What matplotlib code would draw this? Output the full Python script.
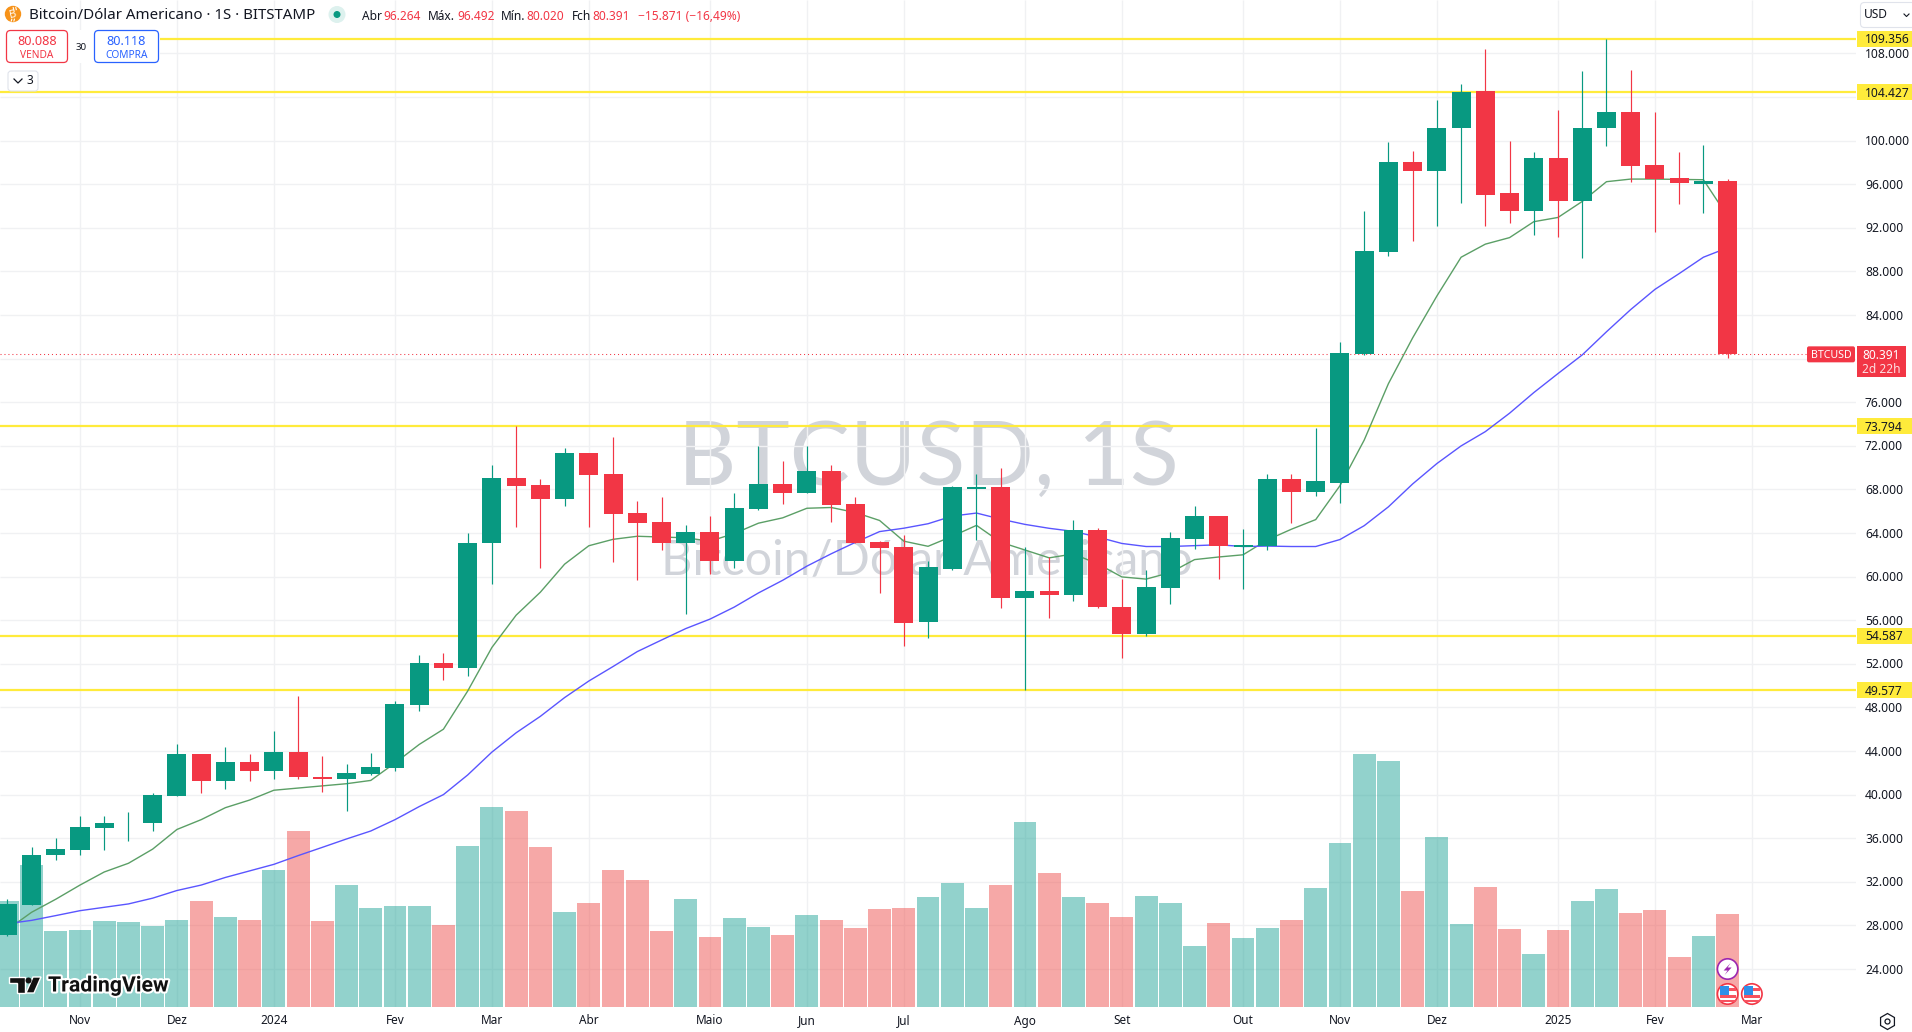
import matplotlib
matplotlib.use("Agg")
import matplotlib.pyplot as plt
from matplotlib.patches import Rectangle, FancyBboxPatch, Circle, Polygon, RegularPolygon
import matplotlib.patheffects as pe

opens = [27.1,29.9,34.5,34.95,36.97,37.35,37.36,39.9,43.76,41.28,43.02,42.2,43.94,41.65,41.46,41.92,42.47,48.25,52.1,51.65,
         63.07,69.05,68.38,67.11,71.33,69.4,65.8,65.0,63.07,64.09,61.42,66.2,68.49,67.64,69.68,66.66,63.14,62.69,55.8,60.73,
         68.06,68.26,58.06,58.7,58.33,64.23,57.22,54.75,58.97,63.47,65.59,62.76,62.8,68.97,67.78,68.6,80.39,89.74,98.0,97.17,
         101.12,104.51,95.16,93.5,98.37,94.42,101.12,102.59,97.72,96.53,95.98,96.264]
highs = [30.4,35.2,36.0,38.0,38.0,38.43,40.18,44.67,43.76,44.4,43.76,45.87,49.08,43.57,42.84,43.85,48.6,52.84,53.02,64.03,
         70.24,73.794,68.94,71.79,71.33,72.81,66.94,67.29,64.72,65.53,67.64,71.97,70.59,71.97,70.24,67.29,63.25,63.81,61.42,68.34,
         69.37,70.0,62.76,61.84,65.15,64.47,59.8,60.65,64.11,66.5,65.59,64.4,69.37,69.45,73.6,81.48,93.5,99.83,99.0,103.69,
         105.16,108.37,99.93,98.92,102.77,106.35,109.356,106.44,102.59,98.92,99.56,96.492]
lows = [27.0,29.9,34.0,34.5,34.95,35.7,36.7,39.9,40.18,40.54,41.28,41.46,41.46,40.27,38.53,41.83,42.2,47.7,50.54,50.9,
        59.31,64.55,60.75,66.48,64.55,61.31,59.66,62.44,56.53,60.22,60.75,66.1,66.66,67.64,65.0,63.07,58.47,53.62,54.35,60.65,
        63.4,57.14,49.577,56.19,57.78,57.14,52.56,54.55,57.5,62.56,59.8,58.9,62.48,64.95,67.42,66.78,80.3,89.38,90.75,92.13,
        94.24,92.13,92.4,91.3,91.2,89.2,99.47,96.17,91.58,94.15,93.32,80.02]
closes = [30.0,34.5,35.0,37.06,37.43,37.43,40.0,43.76,41.28,43.02,42.2,43.94,41.65,41.46,42.0,42.56,48.34,52.1,51.65,63.11,
          69.05,68.31,67.11,71.33,69.33,65.74,64.9,63.07,64.09,61.42,66.27,68.49,67.64,69.68,66.55,63.07,62.62,55.73,60.86,68.18,
          68.26,58.06,58.7,58.33,64.23,57.22,54.75,59.05,63.55,65.59,62.8,62.88,68.97,67.78,68.73,80.49,89.83,98.0,97.17,101.2,
          104.42,94.97,93.5,98.37,94.42,101.2,102.59,97.63,96.44,96.07,96.26,80.391]
volumes = [106,142,76,77,86,85,81,87,106,90,87,137,176,86,122,99,101,101,82,161,
           200,196,160,95,104,137,127,76,108,70,89,80,72,92,87,79,98,99,110,124,
           99,122,185,134,110,104,90,111,104,61,84,69,79,87,119,164,253,246,116,170,
           83,120,78,53,77,106,118,94,97,50,71,93]
ma_fast = [27.6,29.2,30.4,31.7,32.9,33.7,35.0,36.8,37.7,38.8,39.5,40.4,40.6,40.8,41.0,41.3,42.9,44.6,46.0,49.5,
           53.5,56.46,58.57,61.14,62.83,63.42,63.7,63.63,63.56,63.25,63.95,64.9,65.39,66.27,66.34,65.88,65.15,63.25,62.78,63.7,
           64.7,63.15,62.44,61.72,62.08,61.17,59.97,59.77,60.37,61.56,61.8,62.0,63.36,64.35,65.23,68.34,72.52,77.7,81.9,85.74,
           89.3,90.5,91.1,92.56,92.95,94.42,96.23,96.47,96.47,96.44,96.41,93.05]
ma_slow = [28.16,28.46,28.9,29.35,29.66,29.97,30.5,31.2,31.7,32.4,33.0,33.6,34.4,35.16,35.93,36.66,37.7,38.9,40.0,41.8,
           43.9,45.67,47.18,48.9,50.42,51.75,53.12,54.18,55.23,56.1,57.2,58.5,59.66,60.96,62.09,63.14,64.13,64.44,64.85,65.55,
           65.83,65.27,64.79,64.43,64.15,63.63,63.04,62.76,62.76,62.84,62.92,62.76,62.8,62.76,62.76,63.4,64.67,66.4,68.5,70.37,
           71.99,73.3,74.99,76.88,78.63,80.34,82.46,84.5,86.35,87.8,89.3,90.17]

level_lines = [109.356, 104.427, 73.794, 54.587, 49.577]
price_ticks = [108,100,96,92,88,84,76,72,68,64,60,56,52,48,44,40,36,32,28,24]
grid_prices = list(range(24, 112, 4))
time_idx = [3,7,11,16,20,24,29,33,37,42,46,51,55,59,64,68,72]
time_labels = ["Nov","Dez","2024","Fev","Mar","Abr","Maio","Jun","Jul","Ago","Set","Out","Nov","Dez","2025","Fev","Mar"]
last_price = 80.391

W, H = 1912, 1032
PANE_R, PANE_B = 1856, 1007
PX_PER_BAR = 24.23
FIRST_X = 7.3
PX_PER_K = 10.9
xlim = (-FIRST_X / PX_PER_BAR, (PANE_R - FIRST_X) / PX_PER_BAR)
ylim = (24 + (969 - PANE_B) / PX_PER_K, 24 + 969 / PX_PER_K)

FONT = "Noto Sans"
plt.rcParams["font.family"] = [FONT, "DejaVu Sans"]
INK = "#131722"
GREEN, RED = "#089981", "#F23645"
GRID = "#F0F1F3"
YELLOW = "#FFEB3B"

fig = plt.figure(figsize=(W / 100, H / 100), dpi=100, facecolor="white")
rect = [0, (H - PANE_B) / H, PANE_R / W, PANE_B / H]


def blank(ax):
    ax.set_xticks([]); ax.set_yticks([])
    for s in ax.spines.values():
        s.set_visible(False)


# background: grid and watermark
bg = fig.add_axes(rect, zorder=0)
bg.set_xlim(xlim); bg.set_ylim(ylim); blank(bg)
bg.hlines(grid_prices, *xlim, color=GRID, lw=1.0, zorder=1)
bg.vlines(time_idx, *ylim, color=GRID, lw=1.0, zorder=1)

# volume pane
vax = fig.add_axes(rect, zorder=1)
vax.patch.set_visible(False)
vax.set_xlim(xlim); vax.set_ylim(0, PANE_B); blank(vax)
idx = list(range(len(opens)))
up = [c >= o for o, c in zip(opens, closes)]
vax.bar(idx, volumes, width=0.945, linewidth=0,
        color=["#26A69A" if u else "#EF5350" for u in up], alpha=0.5)

# price pane
ax = fig.add_axes(rect, zorder=2)
ax.patch.set_visible(False)
ax.set_xlim(xlim); ax.set_ylim(ylim); blank(ax)
ax.hlines(level_lines, *xlim, color=YELLOW, lw=1.6, zorder=2)
ax.hlines([last_price], *xlim, color=RED, lw=0.75, linestyles=(0, (1, 2.8)), zorder=2)
ax.plot(idx, ma_fast, color="#5B9F66", lw=1.0, zorder=3)
ax.plot(idx, ma_slow, color="#5A55FF", lw=1.0, zorder=3)
colors = [GREEN if u else RED for u in up]
ax.vlines(idx, lows, highs, colors=colors, lw=0.85, zorder=4)
ax.bar(idx, [abs(c - o) for o, c in zip(opens, closes)],
       bottom=[min(o, c) for o, c in zip(opens, closes)],
       width=0.785, color=colors, linewidth=0, zorder=5)

# overlay in pixel coordinates for the interface furniture
ui = fig.add_axes([0, 0, 1, 1], zorder=5)
ui.patch.set_visible(False)
ui.set_xlim(0, W); ui.set_ylim(H, 0); blank(ui)


def py(p):
    return PANE_B - (p - ylim[0]) * PX_PER_K


def t(x, y, s, size=8.5, color=INK, ha="left", va="center", **kw):
    return ui.text(x, y, s, fontsize=size, color=color, ha=ha, va=va, **kw)


# watermark (below everything else, on bg)
wm = "#D1D4DA"
bg.text(0.5 * (685 + 1172) / PANE_R, 1 - 460 / PANE_B, "BTCUSD, 1S", transform=bg.transAxes,
        fontsize=65, color=wm, ha="center", va="center", zorder=0, family="Lato")
bg.text(0.5 * (662 + 1192) / PANE_R, 1 - 561 / PANE_B, "Bitcoin/Dólar Americano", transform=bg.transAxes,
        fontsize=35, color=wm, ha="center", va="center", zorder=0, family="Lato")

# price axis labels
for p in price_ticks:
    t(1865, py(p) + 1, f"{p}.000", size=8.7)
for p in level_lines:
    ui.add_patch(Rectangle((1857, py(p) - 8), 55, 16, color=YELLOW, lw=0, zorder=3))
    t(1865, py(p) + 1, f"{p:.3f}", size=8.7, zorder=4)

# last price labels
ui.add_patch(FancyBboxPatch((1807, py(last_price) - 8), 48, 16, boxstyle="round,pad=0,rounding_size=2",
                            fc=RED, ec="none"))
t(1831, py(last_price) + 1, "BTCUSD", size=7.6, color="white", ha="center", fontweight="bold")
ui.add_patch(Rectangle((1857, py(last_price) - 8), 49, 31, color=RED, lw=0, zorder=3))
t(1881.5, py(last_price) + 1, "80.391", size=8.6, color="white", ha="center", zorder=4, fontweight="bold")
t(1881.5, py(last_price) + 15, "2d 22h", size=8.6, color="#FCDDE0", ha="center", zorder=4)

# time axis labels
for i, lab in zip(time_idx, time_labels):
    x = FIRST_X + i * PX_PER_BAR
    t(x, 1021, lab, size=8.5, ha="center", fontweight="bold" if lab.isdigit() else "normal")

# header
ui.add_patch(Circle((13, 14), 8.2, fc="#F7931A", ec="none"))
# no installed family has the bitcoin sign: a B with two short bars drawn as a shape
ui.text(13, 14.5, "B", fontsize=8, color="white", ha="center", va="center", fontweight="bold", rotation=12)
for dx in (-0.2, 2.4):
    ui.plot([13.4 + dx, 13.9 + dx], [7.6, 9.6], color="white", lw=0.8)
    ui.plot([12.0 + dx, 11.5 + dx], [19.2, 21.0], color="white", lw=0.8)
t(29, 15.5, "Bitcoin/Dólar Americano · 1S · BITSTAMP", size=10.85)
ui.add_patch(Circle((337, 14.5), 8.5, fc="#DDF1EE", ec="none"))
ui.add_patch(Circle((337, 14.5), 3.5, fc=GREEN, ec="none"))
for x, s, c in [(362, "Abr", INK), (383, "96.264", RED), (427.5, "Máx.", INK), (457, "96.492", RED),
                (501, "Mín.", INK), (526.5, "80.020", RED), (572, "Fch", INK), (592, "80.391", RED),
                (638, "−15.871 (−16,49%)", RED)]:
    t(x, 16, s, size=8.6, color=c)

# buy / sell buttons
ui.add_patch(Rectangle((0, 30), 160, 33, fc="white", ec="none"))
ui.add_patch(FancyBboxPatch((6.5, 30.5), 61, 32, boxstyle="round,pad=0,rounding_size=4", fc="white", ec=RED, lw=0.9))
t(37, 41.5, "80.088", size=9.1, color=RED, ha="center")
t(37, 55.5, "VENDA", size=7.3, color=RED, ha="center")
t(81, 48, "30", size=7, ha="center")
ui.add_patch(FancyBboxPatch((94.5, 30.5), 64, 32, boxstyle="round,pad=0,rounding_size=4", fc="white", ec="#2962FF", lw=0.9))
t(126.5, 41.5, "80.118", size=9.1, color="#2962FF", ha="center")
t(126.5, 55.5, "COMPRA", size=7.3, color="#2962FF", ha="center")
ui.add_patch(FancyBboxPatch((8, 71), 30, 20, boxstyle="round,pad=0,rounding_size=3", fc="white", ec="#E0E3EB", lw=0.8))
ui.plot([14, 18, 22], [79, 83, 79], color=INK, lw=0.9)
t(27, 81, "3", size=8.5)

# currency button
ui.add_patch(FancyBboxPatch((1860.5, 2.5), 60, 25, boxstyle="round,pad=0,rounding_size=4", fc="white", ec="#E0E3EB", lw=0.8))
t(1864, 15, "USD", size=8.6)
ui.plot([1904, 1906.5, 1909], [14, 16.5, 14], color=INK, lw=0.8)

# TradingView logo
halo = [pe.withStroke(linewidth=3, foreground="white")]
t(48, 986, "TradingView", size=15.3, color="#111111", fontweight="bold",
  path_effects=halo, family="Roboto")
for poly in ([(9.5, 977), (25, 977), (25, 993), (17, 993), (17, 983), (9.5, 983)],
             [(33, 977), (41, 977), (34, 993), (26, 993)]):
    ui.add_patch(Polygon(poly, fc="#111111", ec="white", lw=1, zorder=3))
ui.add_patch(Circle((28.5, 980.5), 3, fc="#111111", ec="none", zorder=3))

# event icons
ev_x = FIRST_X + 71 * PX_PER_BAR
ui.add_patch(Circle((ev_x, 969), 10.2, fc="white", ec="#9C27B0", lw=1.2, zorder=6))
ui.add_patch(Polygon([(ev_x + 3, 963), (ev_x - 4, 970.5), (ev_x, 970.5), (ev_x - 3, 975), (ev_x + 4, 967.5), (ev_x, 967.5)],
                     fc="#9C27B0", ec="none", zorder=7))
for fx in (ev_x, ev_x + PX_PER_BAR):
    ui.add_patch(Circle((fx, 994), 10.2, fc="white", ec=RED, lw=1.2, zorder=6))
    ui.add_patch(Rectangle((fx - 8, 988), 16, 3, fc="#F7525F", ec="none", zorder=7))
    ui.add_patch(Rectangle((fx - 8, 994.5), 16, 3, fc="#F7525F", ec="none", zorder=7))
    ui.add_patch(Rectangle((fx - 8, 999.5), 16, 2.5, fc="#F7525F", ec="none", zorder=7))
    ui.add_patch(Rectangle((fx - 8, 986), 9, 9, fc="#2F8FE8", ec="none", zorder=8))

# settings icon
ui.add_patch(RegularPolygon((1887.5, 1021.5), 6, radius=8, orientation=0, fc="none", ec=INK, lw=0.9))
ui.add_patch(Circle((1887.5, 1021.5), 2.5, fc="none", ec=INK, lw=0.9))

fig.savefig("out.png", dpi=100, facecolor="white")
